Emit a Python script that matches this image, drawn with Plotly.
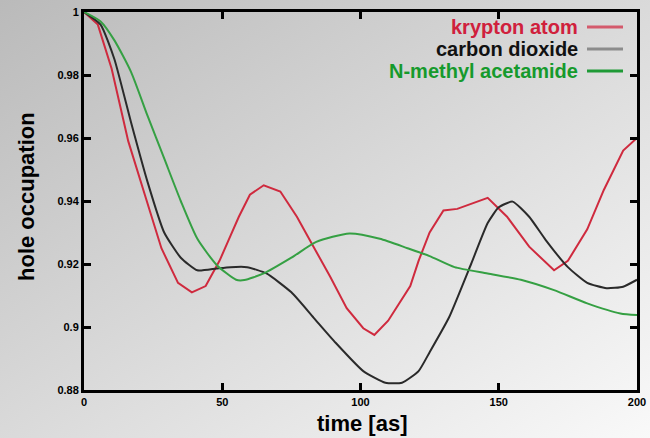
import base64
import plotly.graph_objects as go

# ---- data ----
kr_t = [0, 5, 10, 16, 22, 28, 34, 39, 44, 49, 53, 56, 60, 65, 71, 77, 83, 89, 95, 101,
        105, 110, 118, 121, 125, 130, 135, 140, 146, 153, 161, 170, 175, 182, 188, 195, 200]
kr_v = [1.0, 0.996, 0.982, 0.959, 0.942, 0.925, 0.914, 0.911, 0.913, 0.921, 0.929, 0.935,
        0.942, 0.945, 0.943, 0.935, 0.9255, 0.916, 0.906, 0.8996, 0.8975, 0.902, 0.913, 0.921,
        0.930, 0.937, 0.9375, 0.939, 0.941, 0.935, 0.9255, 0.918, 0.921, 0.931, 0.9435, 0.956, 0.960]

co2_t = [0, 6, 11, 17, 23, 29, 35, 41, 48, 53, 59, 66, 75, 83, 91, 101, 109, 115, 121, 125,
         132, 140, 146, 150, 155, 161, 167, 175, 182, 189, 195, 200]
co2_v = [1.0, 0.996, 0.985, 0.965, 0.946, 0.930, 0.922, 0.918, 0.9186, 0.919, 0.919, 0.917,
         0.911, 0.903, 0.895, 0.886, 0.8823, 0.8823, 0.886, 0.892, 0.903, 0.920, 0.933, 0.938,
         0.9398, 0.935, 0.9276, 0.919, 0.914, 0.9123, 0.9128, 0.915]

nma_t = [0, 6, 11, 17, 23, 29, 35, 41, 48, 55, 58, 65, 75, 84, 96, 107, 117, 125, 134, 146,
         158, 170, 182, 194, 200]
nma_v = [1.0, 0.997, 0.991, 0.981, 0.967, 0.9535, 0.940, 0.928, 0.9197, 0.915, 0.9149, 0.917,
         0.922, 0.927, 0.9297, 0.928, 0.925, 0.9225, 0.919, 0.917, 0.915, 0.9117, 0.9075, 0.9043, 0.9038]

series_names = ["krypton atom", "carbon dioxide", "N-methyl acetamide"]
x_ticks = [0, 50, 100, 150, 200]
x_ticktext = ["0", "50", "100", "150", "200"]
y_ticks = [0.88, 0.90, 0.92, 0.94, 0.96, 0.98, 1.0]
y_ticktext = ["0.88", "0.9", "0.92", "0.94", "0.96", "0.98", "1"]

# ---- styling ----
W, H = 650, 438
line_colors = ["#cf2a3e", "#2a2a2a", "#35a043"]
text_colors = ["#d0203c", "#111111", "#169a2c"]
sample_colors = ["#d45a6c", "#8c8c8c", "#1f9a36"]
shapes_smooth = [("linear", None), ("spline", 0.5), ("spline", 0.6)]
FONT = "Liberation Sans, Arial, sans-serif"

svg = (f'<svg xmlns="http://www.w3.org/2000/svg" width="{W}" height="{H}" '
       f'viewBox="0 0 {W} {H}" preserveAspectRatio="none">'
       '<defs><linearGradient id="g" x1="0" y1="0" x2="1" y2="1">'
       '<stop offset="0" stop-color="#bababa"/><stop offset="1" stop-color="#f9f9f9"/>'
       '</linearGradient></defs>'
       f'<rect width="{W}" height="{H}" fill="url(#g)"/></svg>')
bg_src = "data:image/svg+xml;base64," + base64.b64encode(svg.encode()).decode()

fig = go.Figure()
for (t, v), name, col, (shp, sm) in zip([(kr_t, kr_v), (co2_t, co2_v), (nma_t, nma_v)],
                                         series_names, line_colors, shapes_smooth):
    line = dict(color=col, width=2, shape=shp)
    if sm is not None:
        line["smoothing"] = sm
    fig.add_trace(go.Scatter(x=t, y=v, mode="lines", name=name, line=line, showlegend=False))

x0, x1 = 84 / W, 637 / W
y0, y1 = 1 - 390 / H, 1 - 12 / H

axis_common = dict(showline=True, linecolor="black", linewidth=3, mirror="ticks",
                   ticks="inside", ticklen=7, tickwidth=3, tickcolor="black",
                   showgrid=False, zeroline=False, automargin=False,
                   tickfont=dict(family=FONT, size=11, color="black", weight="bold"))

fig.update_layout(
    width=W, height=H,
    margin=dict(l=0, r=0, t=0, b=0),
    paper_bgcolor="#dcdcdc",
    plot_bgcolor="rgba(0,0,0,0)",
    showlegend=False,
    xaxis=dict(domain=[x0, x1], range=[0, 200], tickvals=x_ticks, ticktext=x_ticktext,
               **axis_common),
    yaxis=dict(domain=[y0, y1], range=[0.88, 1.0], tickvals=y_ticks, ticktext=y_ticktext,
               **axis_common),
    images=[dict(source=bg_src, xref="paper", yref="paper", x=0, y=1, sizex=1, sizey=1,
                 xanchor="left", yanchor="top", sizing="stretch", layer="below")],
)

# axis titles
fig.add_annotation(text="time [as]", xref="paper", yref="paper", x=362 / W, y=1 - 423 / H,
                   showarrow=False, xanchor="center", yanchor="middle",
                   font=dict(family=FONT, size=22, color="black", weight="bold"))
fig.add_annotation(text="hole occupation", xref="paper", yref="paper", x=27 / W, y=1 - 197 / H,
                   showarrow=False, xanchor="center", yanchor="middle", textangle=-90,
                   font=dict(family=FONT, size=22, color="black", weight="bold"))

# gnuplot-style legend: text right-aligned, sample line on the right
row_y = [27, 49, 71]
for name, tc, sc, ry in zip(series_names, text_colors, sample_colors, row_y):
    fig.add_annotation(text=name, xref="paper", yref="paper", x=580 / W, y=1 - ry / H,
                       showarrow=False, xanchor="right", yanchor="middle",
                       font=dict(family=FONT, size=20, color=tc, weight="bold"))
    fig.add_shape(type="line", xref="paper", yref="paper", x0=587 / W, x1=623 / W,
                  y0=1 - ry / H, y1=1 - ry / H, line=dict(color=sc, width=3))

fig.write_html("out.html")
